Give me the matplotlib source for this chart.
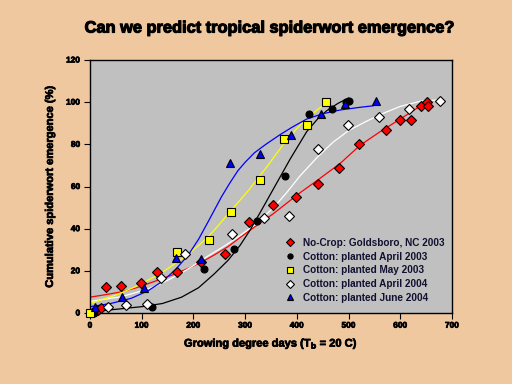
import matplotlib
matplotlib.use("Agg")
import matplotlib.pyplot as plt
import matplotlib.patheffects as pe

# ---- data points ----
red_x = [5, 15, 22, 31, 59, 99, 130, 168, 215, 261, 307, 353, 398, 440, 482, 521, 573, 600, 621, 641, 651, 653]
red_y = [0.5, 1.4, 2.2, 12.5, 13, 14, 19.6, 19.6, 24, 27.8, 43.3, 51, 55, 61, 69, 80, 87, 91.5, 91.5, 98, 100.2, 98]

blk_x = [8, 120, 220, 278, 322, 377, 424, 468, 495, 501]
blk_y = [0, 2.7, 20.7, 30.4, 43.8, 65, 94.3, 96.8, 100.3, 100.6]

yel_x = [0, 169, 230, 273, 328, 375, 419, 457]
yel_y = [0, 28.8, 34.5, 47.8, 63, 82.4, 89.3, 100]

wht_x = [35, 70, 110, 137, 183, 275, 336, 385, 440, 498, 559, 617, 677]
wht_y = [3, 3.6, 4.1, 16.4, 27.8, 37.6, 45, 45.8, 77.6, 89.2, 93, 96.6, 100.4]

blu_x = [10, 62, 104, 167, 215, 271, 329, 388, 447, 493, 553]
blu_y = [3, 7.7, 11.7, 25.9, 25.7, 71.3, 75.6, 84.4, 94.2, 99.2, 100.6]

# ---- fitted curves ----
red_cx = [0, 30, 60, 90, 125, 170, 215, 240, 267, 305, 354, 406, 440, 484, 522, 561, 600, 625, 651]
red_cy = [7.5, 8.7, 10, 12, 15, 19, 24, 27.5, 31.5, 38.5, 47, 57, 63, 71, 79.5, 86, 92, 96, 100]

wht_cx = [0, 60, 100, 125, 150, 177, 200, 228, 255, 280, 320, 355, 380, 406, 440, 470, 500, 535, 570, 600, 640, 670]
wht_cy = [5.5, 7.7, 10.5, 12.5, 15.5, 19, 22.5, 27, 31, 35, 42, 50, 57, 65, 74, 81, 86.5, 91, 95, 98, 100.5, 101]

blk_cx = [0, 60, 100, 140, 177, 210, 240, 267, 290, 310, 331, 355, 387, 419, 440, 458, 480, 500]
blk_cy = [0.5, 2, 3, 4.5, 7.5, 12, 18.5, 25, 32, 39.5, 48.5, 59, 73, 86, 92, 96, 99.5, 102]

yel_cx = [0, 50, 93, 138, 165, 190, 210, 228, 250, 267, 306, 344, 374, 400, 419, 440, 460]
yel_cy = [4.5, 8.5, 13, 19, 23.5, 28, 32, 36, 42, 47, 58, 70, 80, 87.5, 92, 96.5, 100]

blu_cx = [0, 40, 80, 112, 140, 165, 190, 210, 230, 254, 270, 286, 300, 318, 340, 367, 390, 419, 450, 484, 520, 548]
blu_cy = [3, 4.5, 7, 10.5, 15, 20.5, 27.5, 35, 44, 55, 61.5, 67.5, 71.5, 76, 80, 84.5, 88, 92, 94.5, 96.3, 97.5, 98.3]

labels = ["No-Crop: Goldsboro, NC 2003", "Cotton: planted April 2003",
          "Cotton: planted May 2003", "Cotton: planted April 2004",
          "Cotton: planted June 2004"]
xticks = [0, 100, 200, 300, 400, 500, 600, 700]
yticks = [0, 20, 40, 60, 80, 100, 120]

plt.rcParams['font.family'] = ['Liberation Sans', 'DejaVu Sans']

fig = plt.figure(figsize=(5.12, 3.84), dpi=100, facecolor='#EFC8A0')
ax = fig.add_axes([90/512, 71/384, 362/512, 253/384])
ax.set_facecolor('#C0C0C0')

lw = 0.9
ax.plot(red_cx, red_cy, color='red', lw=lw, zorder=2)
ax.plot(wht_cx, wht_cy, color='white', lw=lw, zorder=2)
ax.plot(blk_cx, blk_cy, color='black', lw=lw, zorder=2)
ax.plot(yel_cx, yel_cy, color='yellow', lw=lw, zorder=2)
ax.plot(blu_cx, blu_cy, color='blue', lw=lw, zorder=2)

kw = dict(linestyle='none', markeredgecolor='black', markeredgewidth=0.8, zorder=3, clip_on=False)
ax.plot(red_x, red_y, marker='D', ms=5.5, color='red', label=labels[0], **kw)
ax.plot(blk_x, blk_y, marker='o', ms=5, color='black', label=labels[1], **kw)
ax.plot(yel_x, yel_y, marker='s', ms=6, color='yellow', label=labels[2], **kw)
ax.plot(wht_x, wht_y, marker='D', ms=5.5, color='white', label=labels[3], **kw)
ax.plot(blu_x, blu_y, marker='^', ms=6, color='blue', label=labels[4], **kw)

ax.set_xlim(0, 700)
ax.set_ylim(0, 120)
ax.set_xticks(xticks)
ax.set_yticks(yticks)
ax.tick_params(direction='out', length=4, width=0.8, labelsize=6, pad=3, colors='black')
bold_fx = [pe.withStroke(linewidth=0.5, foreground='black')]
for t in ax.get_xticklabels() + ax.get_yticklabels():
    t.set_fontweight('bold')
    t.set_path_effects(bold_fx)
for s in ax.spines.values():
    s.set_linewidth(1.0)
    s.set_color('black')

lab_fx = [pe.withStroke(linewidth=0.5, foreground='black')]
xl = ax.set_xlabel("Growing degree days (T$_\\mathbf{b}$ = 20 C)", fontsize=8, fontweight='bold', labelpad=5)
yl = ax.set_ylabel("Cumulative spiderwort emergence (%)", fontsize=8, fontweight='bold', labelpad=8)
xl.set_path_effects(lab_fx)
yl.set_path_effects(lab_fx)

title = fig.text(0.525, 0.927, "Can we predict tropical spiderwort emergence?", ha='center', va='center',
                 fontsize=11.8, fontweight='bold', color='black')
title.set_path_effects([pe.withStroke(linewidth=0.8, foreground='black')])

leg = ax.legend(loc='lower right', bbox_to_anchor=(0.995, 0.016), borderaxespad=0.2, frameon=False,
                fontsize=7.2, handletextpad=0.5, labelspacing=0.38, markerscale=0.75, handlelength=1.5)
for t in leg.get_texts():
    t.set_fontweight('bold')
    t.set_color('#101030')

fig.savefig("out.png", dpi=100, facecolor=fig.get_facecolor())
